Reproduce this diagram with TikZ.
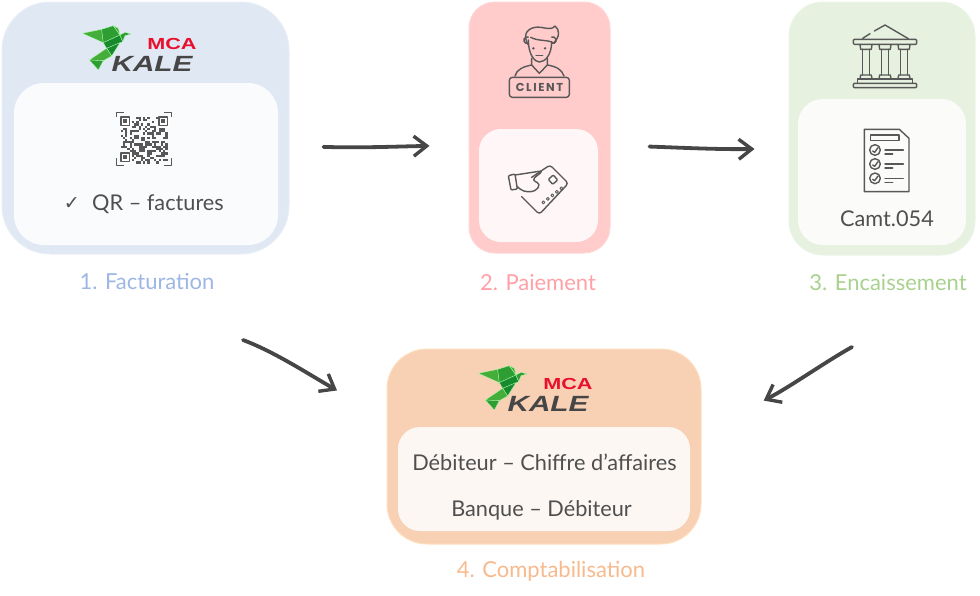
\documentclass[tikz,border=0pt]{standalone}
\usepackage{fontspec}
\setmainfont{Lato}
\newfontfamily\symfont{DejaVu Sans}
\newfontfamily\kalefont[FakeStretch=1.35]{Liberation Sans}
\newfontfamily\signfont[LetterSpace=14]{Poppins}
\usetikzlibrary{arrows.meta, calc, positioning}

\definecolor{inktext}{HTML}{4F4F4F}
\definecolor{inkarrow}{HTML}{464646}
\definecolor{inkicon}{HTML}{585858}
\definecolor{factfill}{HTML}{E0E8F4}
\definecolor{factcap}{HTML}{9DB6E3}
\definecolor{payfill}{HTML}{FFCBCB}
\definecolor{paycap}{HTML}{FFA0A6}
\definecolor{encfill}{HTML}{E6F1E0}
\definecolor{enccap}{HTML}{A9D18E}
\definecolor{compfill}{HTML}{F8D0B4}
\definecolor{compcap}{HTML}{F8B98C}
\definecolor{birdlight}{HTML}{45AD3A}
\definecolor{birdmid}{HTML}{2E9E33}
\definecolor{birddark}{HTML}{178A2E}
\definecolor{mcared}{HTML}{E8112D}

\tikzset{
  outerbox/.style={inner sep=0pt, line width=1pt},
  innerbox/.style={inner sep=0pt, fill=white, fill opacity=.85},
  caption/.style={inner sep=0pt, font=\fontsize{22}{25}\selectfont},
  label/.style={inner sep=0pt, text=inktext, font=\fontsize{21.7}{25}\selectfont},
  flow/.style={draw=inkarrow, line width=3.8pt, line cap=round, -{Straight Barb[length=13pt,width=20pt,line width=3.4pt]}},
  icon/.style={draw=inkicon, line width=1.4pt, line cap=round, line join=round},
  facet/.style={draw=white!70!green, line width=.3pt, line join=round},
  logomca/.style={inner sep=0pt, text=mcared, font=\kalefont\bfseries\fontsize{16}{16}\selectfont},
  logokale/.style={inner sep=0pt, text=inkarrow, font=\kalefont\bfseries\itshape\fontsize{22}{22}\selectfont},
  kale logo/.pic={
    \fill[birdlight, facet] (37,40) -- (95,28) -- (100,68) -- cycle;
    \fill[birdmid, facet] (95,28) -- (130,17) -- (150,45) -- (100,68) -- cycle;
    \fill[birdlight, facet] (130,17) -- (145,25) -- (150,45) -- cycle;
    \fill[birddark, facet] (100,68) -- (150,45) -- (158,65) -- (110,85) -- cycle;
    \fill[birdmid, facet] (150,45) -- (165,37) -- (183,42) -- (165,47) -- (158,65) -- cycle;
    \fill[birddark, facet] (110,85) -- (150,68) -- (125,108) -- cycle;
    \fill[birdlight, facet] (58,120) -- (110,85) -- (125,108) -- (100,122) -- cycle;
    \fill[birdmid, facet] (58,120) -- (100,122) -- (85,150) -- cycle;
  },
  client icon/.pic={
    \draw[icon, rounded corners=3pt] (148,232) rectangle (328,292);
    \draw[icon] (205,120) .. controls (205,165) and (225,186) .. (238,186) .. controls (255,186) and (275,165) .. (275,125);
    \draw[icon] (205,130) arc[start angle=70, end angle=290, radius=10];
    \draw[icon] (275,130) arc[start angle=110, end angle=-110, radius=10];
    \draw[icon] (205,135) .. controls (190,110) and (195,88) .. (225,82) .. controls (250,78) and (270,95) .. (285,78) .. controls (300,90) and (300,110) .. (280,130) .. controls (270,118) and (235,125) .. (212,112);
    \draw[icon] (215,175) -- (215,195) -- (238,220) -- (262,195) -- (262,175);
    \draw[icon] (165,228) .. controls (170,208) and (190,200) .. (215,195);
    \draw[icon] (262,195) .. controls (290,200) and (305,208) .. (312,228);
    \fill[inkicon] (220,145) circle (4) (255,145) circle (4);
    \draw[icon] (228,166) -- (248,166);
  },
  card icon/.pic={
    \draw[icon, rounded corners=3pt] (215,532) -- (270,495) -- (325,550) -- (238,643) -- (185,590);
    \draw[icon, rounded corners=1pt] (265,538) -- (280,525) -- (293,540) -- (278,553) -- cycle;
    \foreach \i in {0,...,4} {
      \draw[icon, line width=.9pt] ($(250,607)+(\i*13.5,-\i*10.5)$) circle (4.5);
    }
    \draw[icon, rounded corners=1pt] (145,527) -- (165,522) -- (172,567) -- (153,570) -- cycle;
    \draw[icon, rounded corners=4pt] (165,525) -- (250,512) -- (215,540) -- (242,552) -- (225,575) -- (190,575) -- (172,560);
  },
  bank icon/.pic={
    \draw[icon] (248,115) -- (270,101) (283,93) -- (315,75) -- (385,116);
    \draw[icon, rounded corners=1pt] (220,118) rectangle (410,133);
    \foreach \x in {240,297,354} {
      \draw[icon] (\x,133) -- (\x+2,148) -- (\x+34,148) -- (\x+36,133);
      \draw[icon] (\x+7,148) -- (\x+7,225) (\x+29,148) -- (\x+29,225);
      \draw[icon] (\x+2,225) -- (\x+34,225) -- (\x+36,237) -- (\x,237) -- cycle;
    }
    \draw[icon] (232,237) rectangle (398,250);
    \draw[icon, rounded corners=1pt] (220,250) rectangle (410,263);
  },
  doc icon/.pic={
    \draw[icon] (253,388) -- (358,388) -- (387,415) -- (387,575) -- (253,575) -- cycle;
    \draw[icon] (272,405) rectangle (357,422);
    \foreach \y in {450,492,535} {
      \draw[icon] (285,\y) circle (16);
      \draw[icon] (278,\y+3) -- (284,\y+7) -- (294,\y-7);
      \draw[icon] (315,\y) -- (370,\y);
      \draw[icon] (315,\y+12) -- (338,\y+12);
    }
  },
  qr icon/.pic={
    \draw[icon, line cap=butt] (350,352) -- (350,337) -- (372,337) (493,337) -- (515,337) -- (515,352);
    \draw[icon, line cap=butt] (350,475) -- (350,497) -- (372,497) (493,497) -- (515,497) -- (515,475);
    \pgfmathsetseed{54}
    \foreach \x in {0,...,20} {
      \foreach \y in {0,...,20} {
        \pgfmathparse{rnd>.52 ? 1 : 0}
        \ifnum\pgfmathresult=1
          \fill[inkicon] (362+6.7*\x,350+6.7*\y) rectangle +(6.7,6.7);
        \fi
      }
    }
    \foreach \x/\y in {362/350, 476/350, 362/458} {
      \fill[white] (\x-3,\y-3) rectangle +(36,36);
      \draw[icon, line width=1.4pt, line cap=butt] (\x+1,\y+1) rectangle +(26,26);
      \fill[inkicon] (\x+8,\y+8) rectangle +(12,12);
    }
  }
}

\begin{document}
\begin{tikzpicture}[x=1pt, y=-1pt]
 \useasboundingbox (0,0) rectangle (980,595);

 \node [outerbox, fill=factfill, draw=factfill!70!white, rounded corners=48pt, minimum width=287pt, minimum height=252pt] (fact) at (145.5,128) {};
 \node [outerbox, fill=payfill, draw=payfill!80!white, rounded corners=26pt, minimum width=141pt, minimum height=251pt] (pay) at (539.5,127.5) {};
 \node [outerbox, fill=encfill, draw=encfill!80!white, rounded corners=34pt, minimum width=186pt, minimum height=253pt] (enc) at (882,128.5) {};
 \node [outerbox, fill=compfill, draw=orange!25!white, rounded corners=40pt, minimum width=314pt, minimum height=195pt] (comp) at (544,446.5) {};

 \node [innerbox, rounded corners=30pt, minimum width=264pt, minimum height=162pt] (factin) at (146,164) {};
 \node [innerbox, rounded corners=22pt, minimum width=119pt, minimum height=113pt] (payin) at (538.5,185.5) {};
 \node [innerbox, rounded corners=25pt, minimum width=168pt, minimum height=146pt] (encin) at (882,172) {};
 \node [innerbox, rounded corners=22pt, minimum width=292pt, minimum height=104pt] (compin) at (544,479) {};

 \node [caption, text=factcap, below=19pt of fact, xshift=1.5pt] (factcaption) {1. Facturation};
 \node [caption, text=paycap, below=20.5pt of pay, xshift=-1.5pt] (paycaption) {2. Paiement};
 \node [caption, text=enccap, below=19pt of enc, xshift=6pt] (enccaption) {3. Encaissement};
 \node [caption, text=compcap, below=17pt of comp, xshift=7pt] (compcaption) {4. Comptabilisation};

 \node [label] (qrtext) at (158,204) {QR -- factures};
 \node [label, left=12pt of qrtext, font=\symfont\fontsize{19}{22}\selectfont] (qrtick) {✓};
 \node [label] (camt) at (887,219) {Camt.054};
 \node [label] (debit) at (544.5,462) {Débiteur -- Chiffre d’affaires};
 \node [label] (bank) at (541.5,510) {Banque -- Débiteur};

 % logos and icons
 \pic [scale=1/3] at (70,20) {kale logo};
 \pic [scale=1/3] at (466,360) {kale logo};
 \node [logomca] (mcaa) at (172,44) {MCA};
 \node [logokale] (kalea) at (152,64) {KALE};
 \node [logomca] (mcab) at (568,384) {MCA};
 \node [logokale] (kaleb) at (548,404) {KALE};

 \pic [scale=1/3] at (0,0) {qr icon};
 \pic [scale=1/3] at (460,0) {client icon};
 \node [inner sep=0pt, text=inkicon, font=\signfont\bfseries\fontsize{11.5}{12}\selectfont] (clienttext) at (539.5,87.5) {CLIENT};
 \pic [scale=1/3] at (460,0) {card icon};
 \pic [scale=1/3] at (780,0) {bank icon};
 \pic [scale=1/3] at (780,0) {doc icon};

 \draw [flow, shorten <=34pt, shorten >=39pt] (fact.-7) to [out=-2, in=181] (pay.194);
 \draw [flow, shorten <=39pt, shorten >=34pt] (pay.-14) to [out=-2, in=181] (enc.192);

 \coordinate (factout) at (243,340);
 \coordinate (encout) at (852,347);
 \draw [flow, shorten >=57pt] (factout) .. controls (275,352) and (310,375) .. (comp.170);
 \draw [flow, shorten >=70pt] (encout) .. controls (825,362) and (790,387) .. (comp.5);
\end{tikzpicture}
\end{document}
